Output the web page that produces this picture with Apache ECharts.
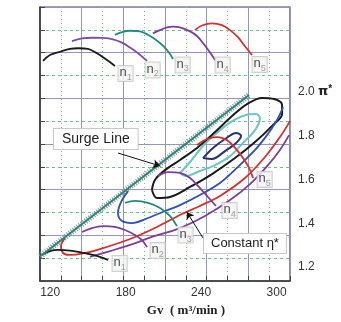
<!DOCTYPE html>
<html><head><meta charset="utf-8">
<script src="https://cdn.jsdelivr.net/npm/echarts@6/dist/echarts.min.js"></script>
<style>html,body{margin:0;padding:0;background:#fff}#c{width:341px;height:322px}</style>
</head><body><div id="c"></div>
<script>
// ---- tick labels ----
const xTicks = [120, 180, 240, 300];
const yTicks = [1.2, 1.4, 1.6, 1.8, 2.0];

// ---- surge line (Gv, pi*) ----
const surgeLine = [[111.9, 1.248], [278.1, 1.986]];

// ---- upper speed curves n1..n5 ----
const topN1 = [[114.3,2.142],[119.8,2.169],[127.8,2.184],[135.7,2.197],[142.1,2.200],[150.1,2.197],[157.2,2.177],[165.2,2.146],[171.5,2.119]];
const topN2 = [[137.3,2.233],[145.3,2.245],[154.0,2.248],[162.0,2.247],[169.9,2.241],[177.1,2.226],[183.5,2.203],[190.6,2.174],[197.0,2.142]];
const topN3 = [[171.5,2.261],[177.1,2.274],[183.5,2.280],[191.4,2.277],[199.4,2.256],[207.3,2.224],[212.9,2.192],[217.7,2.151]];
const topN4 = [[201.7,2.268],[207.3,2.283],[212.9,2.295],[217.7,2.299],[223.2,2.295],[231.2,2.277],[236.7,2.256],[241.5,2.224],[246.3,2.187],[251.1,2.146]];
const topN5 = [[235.1,2.283],[240.7,2.304],[248.7,2.314],[256.6,2.306],[263.0,2.283],[269.3,2.251],[274.1,2.215],[280.5,2.169]];

// ---- lower speed lines n1..n5 ----
const botN1 = [[114.3,1.259],[119.8,1.273],[126.2,1.278],[135.7,1.275],[146.1,1.265],[155.6,1.253],[166.0,1.232]];
const botN2 = [[145.3,1.360],[153.2,1.378],[162.0,1.387],[171.5,1.383],[179.5,1.369],[187.4,1.346],[193.0,1.323],[197.0,1.291]];
const botN3 = [[179.5,1.493],[187.4,1.502],[197.8,1.493],[207.3,1.470],[215.3,1.433],[220.8,1.387]];
const botN4 = [[205.7,1.616],[213.7,1.634],[223.2,1.630],[231.2,1.607],[239.1,1.561],[245.5,1.520],[251.8,1.479]];
const botN5 = [[236.7,1.758],[244.7,1.785],[252.6,1.794],[261.4,1.776],[270.9,1.717],[277.3,1.662],[281.3,1.607]];

// ---- constant efficiency contours ----
const etaNavy = [[241.5,1.698],[249.5,1.744],[259.0,1.785],[267.8,1.813],[271.8,1.799],[267.8,1.767],[259.0,1.730],[248.7,1.694],[241.5,1.698]];
const etaCyan = [[223.2,1.630],[231.2,1.680],[241.5,1.753],[253.4,1.817],[264.6,1.867],[275.7,1.895],[283.7,1.899],[286.8,1.881],[282.9,1.826],[273.3,1.767],[263.0,1.707],[251.1,1.666],[239.1,1.639],[228.0,1.616],[223.2,1.630]];
const etaBlack = [[200.9,1.552],[203.3,1.598],[211.3,1.643],[223.2,1.689],[236.7,1.744],[251.1,1.817],[264.6,1.890],[276.5,1.945],[288.5,1.973],[298.0,1.968],[304.4,1.941],[304.4,1.899],[296.4,1.845],[282.9,1.771],[267.0,1.698],[248.7,1.625],[231.2,1.566],[215.3,1.520],[205.0,1.515],[200.9,1.552]];
const etaBlue = [[181.9,1.547],[176.3,1.497],[173.9,1.447],[177.1,1.410],[185.0,1.401],[197.8,1.424],[211.3,1.456],[223.2,1.483],[239.1,1.529],[255.0,1.584],[268.5,1.653],[282.9,1.735],[292.4,1.803],[300.4,1.872],[305.2,1.931]];
const etaRed = [[131.8,1.333],[128.6,1.296],[130.2,1.264],[135.7,1.255],[146.1,1.262],[159.6,1.282],[183.5,1.328],[204.9,1.383],[223.2,1.438],[239.1,1.479],[255.0,1.525],[274.9,1.607],[290.8,1.703],[302.7,1.794],[310.7,1.867]];
const etaPurple = [[151.6,1.246],[167.6,1.273],[183.5,1.301],[203.3,1.342],[223.2,1.378],[243.1,1.433],[263.0,1.506],[278.9,1.579],[293.2,1.666],[302.7,1.735],[309.9,1.803]];

// ---- annotation arrows ----
const surgeArrow = [[174.0, 1.721], [207.3, 1.662]];
const etaArrow = [[241.5, 1.333], [228.7, 1.451]];

const chart = echarts.init(document.getElementById('c'), null, {renderer: 'canvas'});

const C = {black:'#1a1a1a', purple:'#7a3f98', purple2:'#7452a8', teal:'#218a7e', red:'#d53030', blue:'#2f50b6', navy:'#27346f', cyan:'#6cc6c6'};

function curve(data, color, width, extra) {
  return Object.assign({type:'line', data:data, xAxisIndex:1, yAxisIndex:1, smooth:0.35,
    showSymbol:false, symbol:'none', silent:true, z:3,
    lineStyle:{color:color, width:width}}, extra || {});
}

const speedCurves = [
  {d:topN1, c:C.black, n:'1', off:[3,7.5]},
  {d:topN2, c:C.purple2, n:'2', off:[-2,9]},
  {d:topN3, c:C.teal, n:'3', off:[2,6]},
  {d:topN4, c:C.purple, n:'4', off:[0,5]},
  {d:topN5, c:C.red, n:'5', off:[0,9.5]},
  {d:botN1, c:C.black, n:'1', off:[4,3.5]},
  {d:botN2, c:C.purple, n:'2', off:[3,3.5]},
  {d:botN3, c:C.teal, n:'3', off:[1,9]},
  {d:botN4, c:C.purple, n:'4', off:[6,4.5]},
  {d:botN5, c:C.red, n:'5', off:[4,1.5]}
];

const labelItems = speedCurves.map(s => ({
  value: s.d[s.d.length - 1],
  label: {show:true, position:'right', distance:0, offset:s.off,
    formatter:'{n|n}{s|' + s.n + '}',
    backgroundColor:'#f4f4f4', borderColor:'#c4c4c4', borderWidth:1, padding:[0,1,0,1],
    rich:{
      n:{fontSize:13, fontFamily:'Liberation Sans', color:'#222', lineHeight:15, verticalAlign:'top'},
      s:{fontSize:9, fontFamily:'Liberation Sans', color:'#888', lineHeight:9, padding:[7,0,0,0], verticalAlign:'top'}
    }}
}));

const series = [
  // surge line hatch + line
  curve(surgeLine, '#8a8a8a', 6, {smooth:false, z:2, lineStyle:{color:'#8f8f8f', width:6, type:[1,1.5]}}),
  curve(surgeLine, C.teal, 2, {smooth:false, z:4,
    markLine:{silent:true, symbol:['none','arrow'], symbolSize:7, label:{show:false},
      lineStyle:{color:'#111', width:1, type:'solid'},
      data:[[{coord:surgeArrow[0]}, {coord:surgeArrow[1]}], [{coord:etaArrow[0]}, {coord:etaArrow[1]}]]}}),
  curve(etaNavy, C.navy, 2),
  curve(etaCyan, C.cyan, 2),
  curve(etaBlack, C.black, 2),
  curve(etaBlue, C.blue, 1.8),
  curve(etaRed, C.red, 1.8),
  curve(etaPurple, C.purple, 1.8)
];
speedCurves.forEach(s => series.push(curve(s.d, s.c, 1.8)));
series.push({type:'scatter', xAxisIndex:1, yAxisIndex:1, symbolSize:1, silent:true, z:10,
  itemStyle:{color:'rgba(0,0,0,0)'}, data:labelItems});

const option = {
  animation:false,
  backgroundColor:'#fff',
  grid:{left:40, right:51, top:7, bottom:41, show:true, borderColor:'#444', borderWidth:1.2},
  xAxis:[
    {type:'value', min:0, max:6, interval:1, position:'bottom',
      axisLine:{show:true, lineStyle:{color:'#333', width:1.5}},
      axisTick:{show:true, inside:true, length:5, lineStyle:{color:'#444'}},
      minorTick:{show:true, splitNumber:2, length:5, lineStyle:{color:'#444'}},
      axisLabel:{show:false},
      splitLine:{show:true, lineStyle:{color:'#9296bb', width:1}},
      minorSplitLine:{show:true, lineStyle:{color:'#8cbb98', width:1, type:[1,3]}}},
    {type:'value', min:111.889, max:310.70, position:'bottom',
      axisLine:{show:false}, axisTick:{show:false}, splitLine:{show:false},
      axisLabel:{show:true, customValues:xTicks, margin:6, fontSize:12, color:'#333', fontFamily:'Liberation Sans'},
      name:'Gv  ( m³/min )', nameLocation:'middle', nameGap:23,
      nameTextStyle:{fontFamily:'Liberation Serif', fontWeight:'bold', fontSize:13, color:'#222', padding:[0,0,0,42]}}
  ],
  yAxis:[
    {type:'value', min:0, max:6, interval:1, position:'left',
      axisLine:{show:true, lineStyle:{color:'#333', width:1.5}},
      axisTick:{show:true, inside:true, length:5, lineStyle:{color:'#444'}},
      minorTick:{show:true, splitNumber:2, length:5, lineStyle:{color:'#444'}},
      axisLabel:{show:false},
      splitLine:{show:true, lineStyle:{color:'#9296bb', width:1}},
      minorSplitLine:{show:true, lineStyle:{color:'#7fb78d', width:1, type:[3,3]}}},
    {type:'value', min:1.136, max:2.3886, position:'right',
      axisLine:{show:false}, axisTick:{show:false}, splitLine:{show:false},
      axisLabel:{show:true, customValues:yTicks, margin:8, fontSize:12, color:'#333', fontFamily:'Liberation Sans',
        formatter:function(v){ return Math.abs(v-2) < 1e-9 ? '2.0 {p|π}{s|*}' : v.toFixed(1); },
        rich:{p:{fontSize:13, fontWeight:'bold', color:'#222', fontFamily:'DejaVu Sans'},
              s:{fontSize:10, fontWeight:'bold', color:'#222', verticalAlign:'top', padding:[0,0,6,0]}}}}
  ],
  graphic:[
    {type:'text', left:53, top:128, z:20, silent:true,
      style:{text:'Surge Line', fontSize:14, fontFamily:'Liberation Sans', fill:'#222',
        backgroundColor:'#ffffff', borderColor:'#c8c8c8', borderWidth:1, padding:[3,8,3,8]}},
    {type:'text', left:203, top:233, z:20, silent:true,
      style:{text:'Constant η*', fontSize:13, fontFamily:'Liberation Sans', fill:'#222',
        backgroundColor:'#ffffff', borderColor:'#c8c8c8', borderWidth:1, padding:[3,7,3,7]}}
  ],
  series:series
};
chart.setOption(option);
</script></body></html>
